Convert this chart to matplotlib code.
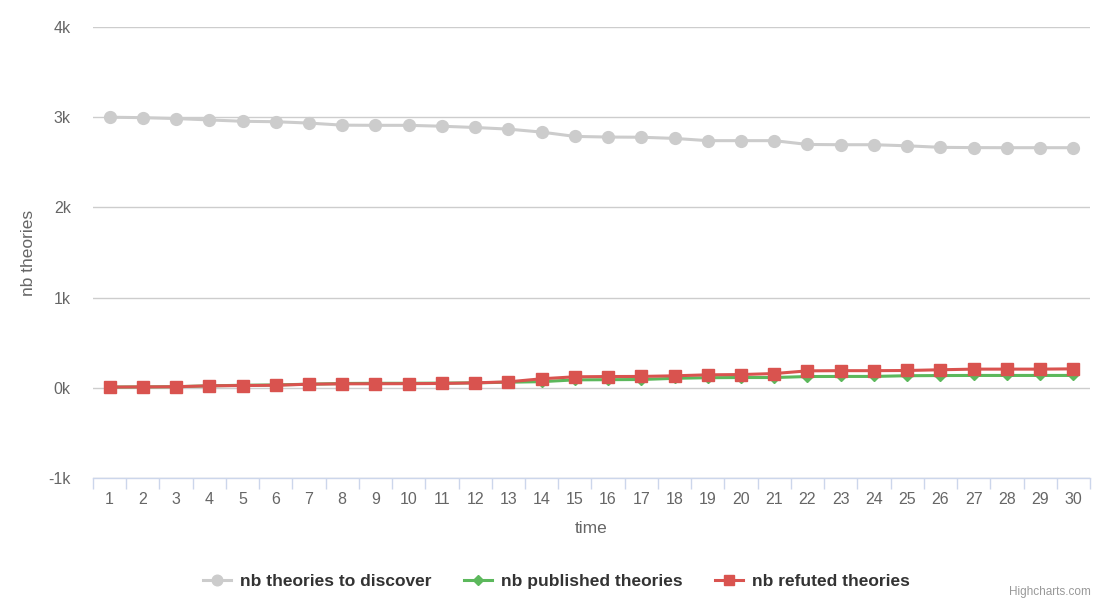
import matplotlib
matplotlib.use("Agg")
import matplotlib.pyplot as plt
import matplotlib.ticker as ticker

plt.rcParams["font.family"] = ["Liberation Sans", "DejaVu Sans"]

# ── data ──────────────────────────────────────────────────────────────────────
time = list(range(1, 31))
to_discover = [3000, 2995, 2985, 2970, 2955, 2950, 2935, 2912, 2910, 2910,
               2900, 2886, 2868, 2835, 2787, 2780, 2778, 2765, 2740, 2740,
               2740, 2698, 2695, 2695, 2683, 2666, 2663, 2662, 2662, 2662]
published = [8, 10, 12, 22, 28, 32, 40, 48, 50, 50,
             52, 55, 62, 68, 88, 90, 92, 105, 112, 114,
             114, 125, 126, 126, 134, 136, 137, 137, 137, 137]
refuted = [8, 10, 12, 22, 25, 28, 40, 44, 45, 46,
           48, 55, 66, 100, 122, 125, 126, 133, 144, 147,
           158, 188, 190, 190, 192, 200, 207, 207, 207, 210]

YTICKS = [-1000, 0, 1000, 2000, 3000, 4000]
YTICK_LABELS = ["-1k", "0k", "1k", "2k", "3k", "4k"]

GRAY = "#cccccc"
GREEN = "#5cb85c"
RED = "#d9534f"
TEXT_C = "#666666"
AXIS_C = "#ccd6eb"

fig = plt.figure(figsize=(11, 5.99), dpi=100)
ax = fig.add_axes([0.0845, 0.202, 0.9064, 0.7529])

l1, = ax.plot(time, to_discover, color=GRAY, lw=2.2, marker="o", ms=8.5,
              label="nb theories to discover", zorder=3)
l2, = ax.plot(time, published, color=GREEN, lw=2.2, marker="D", ms=5.5,
              label="nb published theories", zorder=4)
l3, = ax.plot(time, refuted, color=RED, lw=2.2, marker="s", ms=8,
              label="nb refuted theories", zorder=5)

ax.set_xlim(0.5, 30.5)
ax.set_ylim(-1000, 4000)
ax.set_yticks(YTICKS)
ax.set_yticklabels(YTICK_LABELS)
ax.set_xticks(time)
ax.xaxis.set_minor_locator(ticker.FixedLocator([t + 0.5 for t in [0] + time]))
ax.tick_params(axis="x", which="major", length=0, pad=10, labelsize=11.5,
               labelcolor=TEXT_C)
ax.tick_params(axis="x", which="minor", length=8, color=AXIS_C, width=1)
ax.tick_params(axis="y", length=0, pad=16, labelsize=11.5, labelcolor=TEXT_C)

ax.grid(axis="y", color="#cdcdcd", lw=1, zorder=0)
for side in ["top", "right", "left"]:
    ax.spines[side].set_visible(False)
ax.spines["bottom"].set_color(AXIS_C)
ax.spines["bottom"].set_linewidth(1)

ax.set_xlabel("time", fontsize=12.5, color=TEXT_C, labelpad=10)
ax.set_ylabel("nb theories", fontsize=12.5, color=TEXT_C, labelpad=9)

fig.legend(handles=[l1, l2, l3], loc="center", ncol=3,
           bbox_to_anchor=(0.506, 1 - 581 / 599), frameon=False,
           prop={"size": 12.5, "weight": "bold"}, labelcolor="#333333",
           handlelength=1.6, handletextpad=0.5, columnspacing=1.9,
           markerscale=0.9)

fig.text(0.992, 0.002, "Highcharts.com", ha="right", va="bottom",
         fontsize=8.5, color="#999999")

fig.savefig("out.png", dpi=100)
